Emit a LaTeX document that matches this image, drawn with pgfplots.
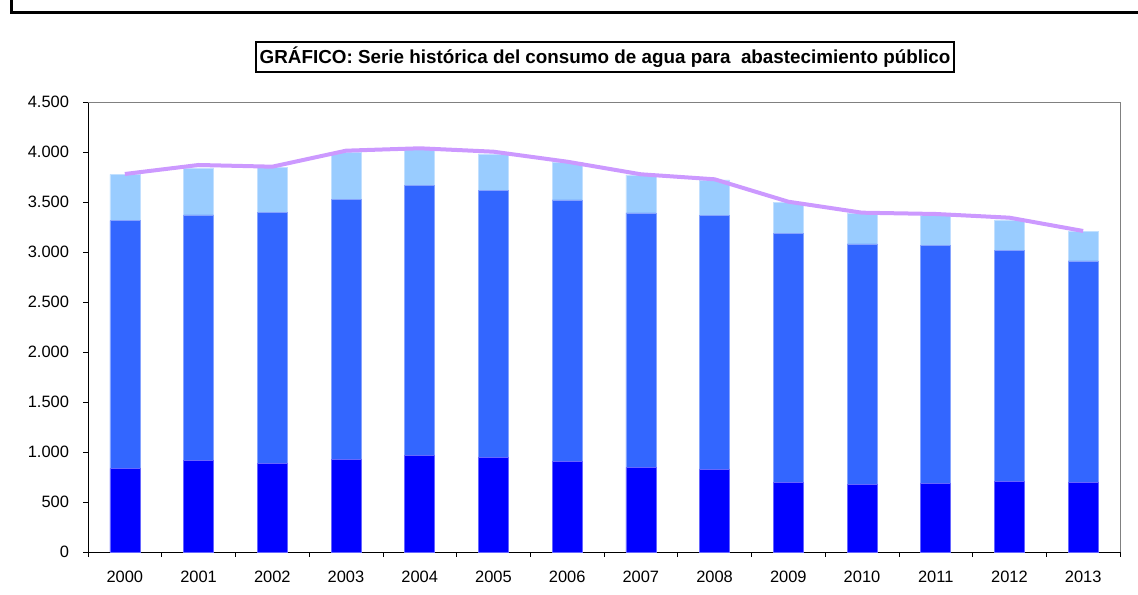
\documentclass[border=0pt]{standalone}
\usepackage{pgfplots}
\pgfplotsset{compat=1.18}
\usepackage{fontspec}
\setmainfont{Liberation Sans}
\definecolor{cdark}{HTML}{0000FF}
\definecolor{cmed}{HTML}{3366FF}
\definecolor{clight}{HTML}{99CCFF}
\definecolor{cline}{HTML}{CC99FF}
\begin{document}
\begin{tikzpicture}[x=1bp,y=1bp]
\path[use as bounding box] (0,0) rectangle (1138,595);
\begin{axis}[
  at={(88bp,43bp)}, anchor=south west,
  scale only axis, width=1032bp, height=450bp,
  xmin=-0.5, xmax=13.5, ymin=0, ymax=4500,
  ybar stacked, bar width=30bp,
  axis x line*=bottom, axis y line*=left,
  axis line style={black, line width=0.8bp},
  xtick={0,...,13},
  xticklabels={2000,2001,2002,2003,2004,2005,2006,2007,2008,2009,2010,2011,2012,2013},
  major x tick style={draw=none},
  minor xtick={-0.5,0.5,...,13.5},
  minor tick length=5bp,
  minor x tick style={black, line width=0.6bp},
  ytick={0,500,...,4500},
  major tick length=5bp,
  y tick style={black, line width=0.6bp},
  tick align=outside,
  /pgf/number format/1000 sep={.},
  /pgf/number format/assume math mode=true,
  tick label style={font=\fontsize{16.5}{18}\selectfont},
  xticklabel style={yshift=-11bp},
  yticklabel style={xshift=-10.5bp},
  clip=false,
]
\addplot[fill=cdark, draw=cdark!60!white, line width=0.5bp] coordinates {
(0,835) (1,915) (2,885) (3,925) (4,965) (5,945) (6,905) (7,845) (8,825) (9,695) (10,675) (11,685) (12,705) (13,695)};
\addplot[fill=cmed, draw=cmed!60!white, line width=0.5bp] coordinates {
(0,2478) (1,2455) (2,2508) (3,2602) (4,2698) (5,2668) (6,2615) (7,2545) (8,2538) (9,2492) (10,2405) (11,2382) (12,2310) (13,2215)};
\addplot[fill=clight, draw=clight!60!white, line width=0.5bp] coordinates {
(0,464) (1,470) (2,454) (3,466) (4,367) (5,367) (6,377) (7,380) (8,357) (9,306) (10,307) (11,303) (12,305) (13,295)};
\draw[gray, line width=0.6bp] (rel axis cs:0,1) -- (rel axis cs:1,1) -- (rel axis cs:1,0);
\end{axis}
\begin{axis}[
  at={(88bp,43bp)}, anchor=south west,
  scale only axis, width=1032bp, height=450bp,
  xmin=-0.5, xmax=13.5, ymin=0, ymax=4500,
  axis lines=none, ticks=none, clip=false,
]
\addplot[cline, line width=4bp, mark=none, line join=round] coordinates {
(0,3780) (1,3870) (2,3853) (3,4013) (4,4037) (5,4003) (6,3903) (7,3777) (8,3727) (9,3503) (10,3393) (11,3380) (12,3343) (13,3210)};
\end{axis}
\node[draw, line width=2bp, inner xsep=4bp, inner ysep=5bp, font=\bfseries\fontsize{18.9}{20}\selectfont] at (605,538) {GRÁFICO: Serie histórica del consumo de agua para\ \ abastecimiento público};
\draw[line width=3bp] (11,595) -- (11,582.5) -- (1138,582.5);
\end{tikzpicture}
\end{document}
